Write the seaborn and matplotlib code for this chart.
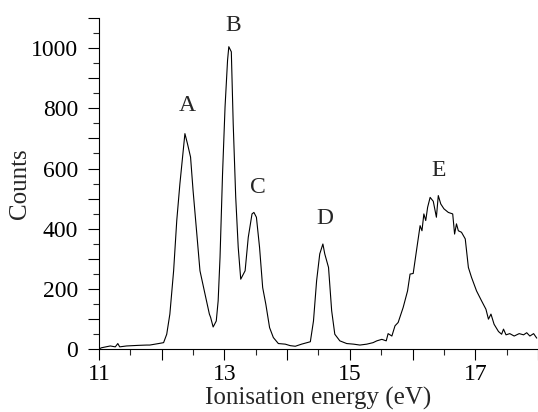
import matplotlib
matplotlib.use("Agg")
import matplotlib.pyplot as plt
import matplotlib.ticker as mticker
import seaborn as sns
import pandas as pd

# photoelectron spectrum
energy = [11.00, 11.04, 11.18, 11.26, 11.30, 11.33, 11.44, 11.63, 11.76, 11.81, 11.95,
          12.03, 12.08, 12.13, 12.19, 12.24, 12.29, 12.37, 12.41, 12.46, 12.50,
          12.56, 12.61, 12.69, 12.76, 12.78, 12.82, 12.87, 12.90, 12.93, 12.97,
          13.01, 13.05, 13.07, 13.11, 13.14, 13.18, 13.22, 13.26, 13.33, 13.38,
          13.44, 13.47, 13.51, 13.56, 13.61, 13.66, 13.72, 13.78, 13.86, 13.97,
          14.05, 14.13, 14.23, 14.37, 14.42, 14.47, 14.52, 14.57, 14.60, 14.66,
          14.71, 14.76, 14.84, 14.95, 15.06, 15.16, 15.27, 15.37, 15.43, 15.51,
          15.58, 15.61, 15.67, 15.72, 15.77, 15.85, 15.92, 15.96, 16.01, 16.07,
          16.12, 16.15, 16.18, 16.21, 16.24, 16.28, 16.33, 16.38, 16.41, 16.45,
          16.50, 16.57, 16.64, 16.67, 16.70, 16.73, 16.78, 16.84, 16.89, 16.94,
          17.02, 17.10, 17.17, 17.21, 17.25, 17.30, 17.37, 17.42, 17.45, 17.49,
          17.55, 17.62, 17.70, 17.77, 17.82, 17.87, 17.93, 17.98]
counts = [0, 4, 10, 7, 18, 7, 10, 12, 13, 13, 18,
          21, 49, 116, 260, 427, 549, 716, 683, 638, 527,
          382, 260, 183, 116, 105, 73, 93, 160, 305, 582,
          805, 960, 1005, 988, 749, 505, 338, 232, 260, 371,
          449, 454, 438, 338, 204, 149, 71, 38, 18, 16,
          11, 9, 16, 24, 93, 227, 316, 349, 316, 271,
          127, 49, 27, 18, 16, 13, 16, 21, 27, 32,
          27, 51, 43, 77, 88, 138, 193, 249, 251, 338,
          410, 393, 449, 427, 471, 504, 491, 438, 510, 482,
          466, 454, 449, 382, 416, 393, 388, 366, 271, 238,
          193, 160, 132, 99, 116, 82, 58, 49, 66, 47,
          51, 43, 51, 47, 54, 43, 51, 36]

peak_names = ["A", "B", "C", "D", "E"]
peak_x = [12.40, 13.14, 13.54, 14.60, 16.42]
peak_y = [810, 1077, 537, 433, 593]

df = pd.DataFrame({"energy": energy, "counts": counts})

sns.set_style("ticks")
plt.rcParams["font.family"] = ["Liberation Serif", "DejaVu Serif"]

fig = plt.figure(figsize=(5.38, 4.12), dpi=100)
ax = fig.add_axes([0.184, 0.153, 0.816, 0.803])

sns.lineplot(data=df, x="energy", y="counts", color="black", linewidth=0.8, ax=ax)

for name, px, py in zip(peak_names, peak_x, peak_y):
    ax.text(px, py, name, ha="center", va="center", fontsize=17)

ax.set_xlim(11, 18)
ax.set_ylim(0, 1100)
ax.xaxis.set_major_locator(mticker.MultipleLocator(1))
ax.xaxis.set_minor_locator(mticker.MultipleLocator(0.5))
ax.xaxis.set_major_formatter(mticker.FuncFormatter(
    lambda v, p: f"{int(round(v))}" if int(round(v)) % 2 == 1 else ""))
ax.yaxis.set_major_locator(mticker.MultipleLocator(100))
ax.yaxis.set_minor_locator(mticker.MultipleLocator(50))
ax.yaxis.set_major_formatter(mticker.FuncFormatter(
    lambda v, p: f"{int(round(v))}" if int(round(v)) % 200 == 0 else ""))

ax.tick_params(which="major", length=8, width=0.8, labelsize=17, colors="black")
ax.tick_params(which="minor", length=4, width=0.8)
ax.tick_params(axis="y", pad=7)
ax.tick_params(axis="x", pad=3)

ax.set_xlabel("Ionisation energy (eV)", fontsize=18, va="center")
ax.set_ylabel("Counts", fontsize=18, va="center")
ax.xaxis.set_label_coords(0.5, -0.15)
ax.yaxis.set_label_coords(-0.18, 0.5)

sns.despine(ax=ax)
for s in ["left", "bottom"]:
    ax.spines[s].set_linewidth(0.8)
    ax.spines[s].set_color("black")

fig.savefig("out.png", dpi=100)
